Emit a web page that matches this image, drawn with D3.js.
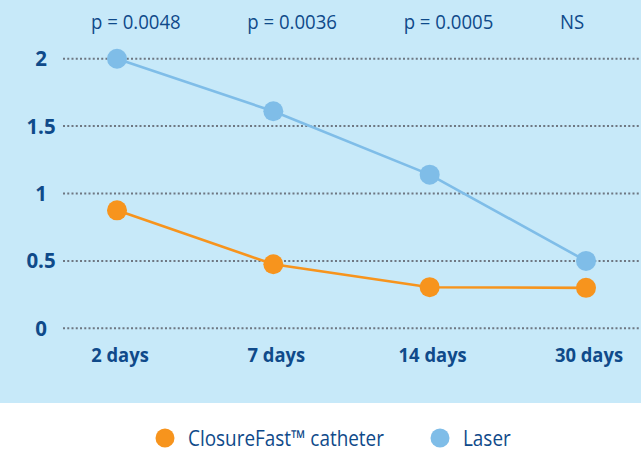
<!DOCTYPE html>
<html>
<head>
<meta charset="utf-8">
<script src="https://cdn.jsdelivr.net/npm/d3@7"></script>
<style>
  body { margin: 0; background: #fff; }
  svg { display: block; font-family: "Open Sans", sans-serif; }
</style>
</head>
<body>
<svg></svg>
<script>
const width = 641;
const height = 452;

// data
const categories = ["2 days", "7 days", "14 days", "30 days"];
const closureFast = [0.875, 0.475, 0.305, 0.30];
const laser = [2.0, 1.61, 1.14, 0.5];
const pLabels = ["p = 0.0048", "p = 0.0036", "p = 0.0005", "NS"];
const yTicks = [0, 0.5, 1, 1.5, 2];
const seriesNames = ["ClosureFast\u2122 catheter", "Laser"];

const orange = "#f7941d";
const blue = "#7fbde8";
const textColor = "#0f4a8a";

const svg = d3.select("svg")
    .attr("width", width)
    .attr("height", height);

// squeeze text a bit so it looks like the condensed original face
const place = (x, y, sx) => `translate(${x},${y}) scale(${sx},1)`;

// light blue panel
svg.append("rect")
    .attr("width", width)
    .attr("height", 403)
    .attr("fill", "#c7e9f9");

const xScale = d3.scalePoint()
    .domain(categories)
    .range([117, 586]);

const yScale = d3.scaleLinear()
    .domain([0, 2])
    .range([328.3, 58.7]);

// gridlines + y labels
const yAxis = svg.append("g").attr("id", "y-axis");
yAxis.selectAll("line")
    .data(yTicks)
    .enter()
    .append("line")
    .attr("x1", 63)
    .attr("x2", width)
    .attr("y1", d => yScale(d))
    .attr("y2", d => yScale(d))
    .attr("stroke", "#6e7782")
    .attr("stroke-width", 2)
    .attr("stroke-dasharray", "2,2.25");

yAxis.selectAll("text")
    .data(yTicks)
    .enter()
    .append("text")
    .attr("transform", d => place(41, yScale(d) + 7.5, 0.93))
    .attr("text-anchor", "middle")
    .attr("font-size", 22)
    .attr("font-weight", 700)
    .attr("fill", textColor)
    .text(d => d);

// x labels
svg.append("g").attr("id", "x-axis")
    .selectAll("text")
    .data(categories)
    .enter()
    .append("text")
    .attr("transform", d => place(xScale(d) + 3, 362, 0.92))
    .attr("text-anchor", "middle")
    .attr("font-size", 20)
    .attr("font-weight", 700)
    .attr("fill", textColor)
    .text(d => d);

// p-values
svg.append("g")
    .selectAll("text")
    .data(pLabels)
    .enter()
    .append("text")
    .attr("transform", (d, i) => place(xScale(categories[i]) - 26, 28.5, 0.93))
    .attr("font-size", 20)
    .attr("fill", textColor)
    .text(d => d);

const line = d3.line()
    .x((d, i) => xScale(categories[i]))
    .y(d => yScale(d));

const series = [
    { name: seriesNames[1], values: laser, color: blue },
    { name: seriesNames[0], values: closureFast, color: orange }
];

series.forEach(s => {
    svg.append("path")
        .datum(s.values)
        .attr("fill", "none")
        .attr("stroke", s.color)
        .attr("stroke-width", 2.6)
        .attr("d", line);

    svg.selectAll(null)
        .data(s.values)
        .enter()
        .append("circle")
        .attr("cx", (d, i) => xScale(categories[i]))
        .attr("cy", d => yScale(d))
        .attr("r", 10)
        .attr("fill", s.color);
});

// legend
const legend = svg.append("g").attr("id", "legend");
const legendItems = [
    { name: seriesNames[0], color: orange, x: 165 },
    { name: seriesNames[1], color: blue, x: 440 }
];
legendItems.forEach(item => {
    legend.append("circle")
        .attr("cx", item.x)
        .attr("cy", 438)
        .attr("r", 9.5)
        .attr("fill", item.color);
    legend.append("text")
        .attr("transform", place(item.x + 23, 446, 0.86))
        .attr("font-size", 22)
        .attr("fill", textColor)
        .text(item.name);
});
</script>
</body>
</html>
